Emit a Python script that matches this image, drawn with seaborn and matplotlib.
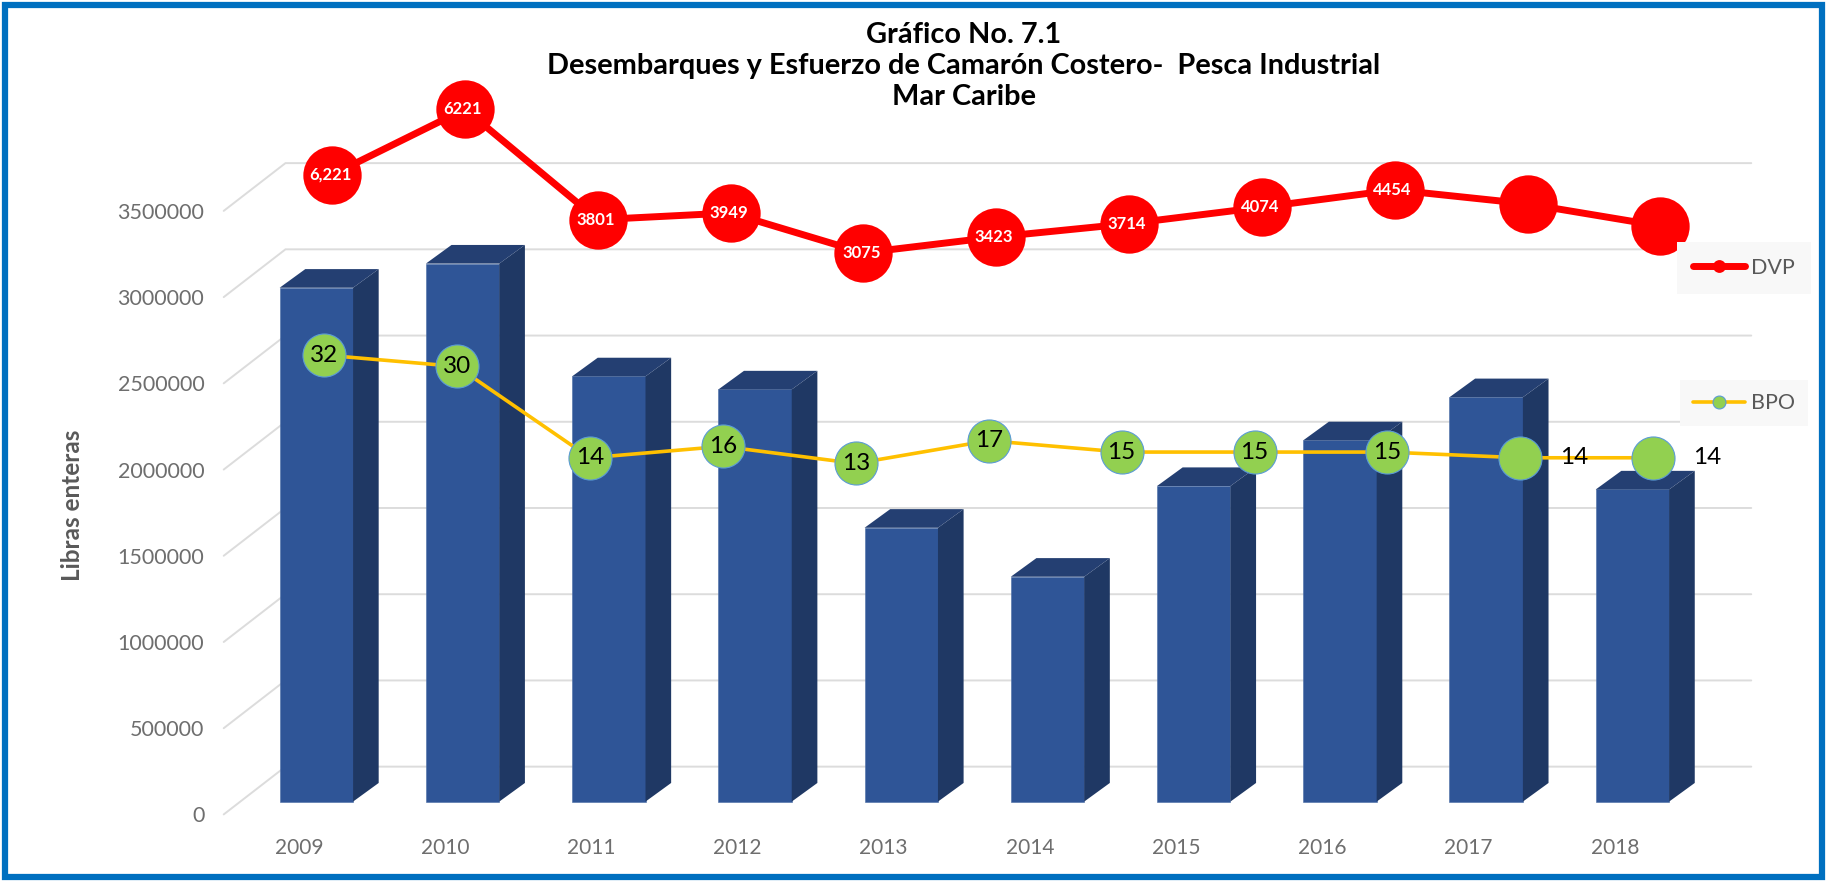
import numpy as np
import pandas as pd
import seaborn as sns
import matplotlib.pyplot as plt
from matplotlib.patches import Polygon, Rectangle

# datos del grafico
years = ['2009', '2010', '2011', '2012', '2013', '2014', '2015', '2016', '2017', '2018']
libras = [2980000, 3120000, 2466000, 2390000, 1588000, 1304000, 1830000, 2095000, 2345000, 1810000]
y_ticks = [0, 500000, 1000000, 1500000, 2000000, 2500000, 3000000, 3500000]

# las lineas tienen 11 puntos, uno mas que las barras
dvp = [4784, 6221, 3801, 3949, 3075, 3423, 3714, 4074, 4454, 4147, 3662]
dvp_labels = ['6,221', '6221', '3801', '3949', '3075', '3423', '3714', '4074', '4454', '', '']
bpo = [32, 30, 14, 16, 13, 17, 15, 15, 15, 14, 14]
bpo_labels = ['32', '30', '14', '16', '13', '17', '15', '15', '15', '14', '14']

title = 'Gráfico No. 7.1\nDesembarques y Esfuerzo de Camarón Costero-  Pesca Industrial\nMar Caribe'

# colores
FRONT = '#2f5597'
SIDE = '#1f3864'
TOP = '#243f72'
GRID = '#dcdcdc'
GREY = '#6e6e6e'

W, H = 1568, 757  # medidas de la imagen reducida, para ubicar los ejes
LEFT, RIGHT, BOTTOM, TOP_PX = 192, 1503, 699, 20
pos = [LEFT / W, (H - BOTTOM) / H, (RIGHT - LEFT) / W, (BOTTOM - TOP_PX) / H]

sns.set_theme(style='white')
plt.rcParams['font.family'] = ['Lato', 'DejaVu Sans']

fig = plt.figure(figsize=(18.27, 8.82), dpi=100)
ax = fig.add_axes(pos)

# escala de las barras
bar_step = 125.5
bar_x0 = 271.5
per_px = 500000 / 74
base_py = 688

df = pd.DataFrame({'year': years, 'libras': libras})
sns.barplot(data=df, x='year', y='libras', color=FRONT, saturation=1, width=0.502,
            edgecolor='#4a6ca6', linewidth=0.4, zorder=3, ax=ax)

ax.set_xlim((LEFT - bar_x0) / bar_step, (RIGHT - bar_x0) / bar_step)
ax.set_ylim((base_py - BOTTOM) * per_px, (base_py - TOP_PX) * per_px)

# efecto 3D de cada barra
dx = 22 / bar_step
dy = 16 * per_px
for bar in list(ax.patches):
    x0 = bar.get_x()
    x1 = x0 + bar.get_width()
    h = bar.get_height()
    ax.add_patch(Polygon([(x1, 0), (x1 + dx, dy), (x1 + dx, h + dy), (x1, h)], color=SIDE, lw=0, zorder=3))
    ax.add_patch(Polygon([(x0, h), (x1, h), (x1 + dx, h + dy), (x0 + dx, h + dy)], color=TOP, lw=0, zorder=3))

# lineas de la cuadricula: plano de atras + diagonal hacia el frente
front_dy = (base_py - BOTTOM) * per_px
back_dy = (base_py - 658) * per_px
back_x = (245 - bar_x0) / bar_step
front_x = (LEFT - bar_x0) / bar_step
right_x = (RIGHT - bar_x0) / bar_step
for t in y_ticks:
    ax.plot([front_x, back_x, right_x], [t + front_dy, t + back_dy, t + back_dy],
            color=GRID, lw=1.4, zorder=1, solid_joinstyle='miter', clip_on=False)

ax.set_xticks(np.arange(len(years)) - 0.12, years)
ax.set_yticks([t + front_dy for t in y_ticks], [str(t) for t in y_ticks])
ax.tick_params(axis='x', length=0, pad=17, labelsize=15, labelcolor=GREY)
ax.tick_params(axis='y', length=0, pad=14, labelsize=15.5, labelcolor=GREY)
ax.set_xlabel('')
ax.set_ylabel('')
sns.despine(ax=ax, left=True, bottom=True)
ax.patch.set_alpha(0)
fig.text(62 / W, 1 - 434 / H, 'Libras enteras', rotation=90, ha='center', va='center',
         fontsize=17.5, fontweight='bold', color='#595959')

idx = np.arange(len(dvp))


def overlay(px0, px_step, v_ref, py_ref, px_per_v):
    # eje secundario invisible con su propia escala
    a = fig.add_axes(pos, frameon=False)
    a.set_xlim((LEFT - px0) / px_step, (RIGHT - px0) / px_step)
    a.set_ylim(v_ref - (BOTTOM - py_ref) / px_per_v, v_ref + (py_ref - TOP_PX) / px_per_v)
    return a


# DVP
ax_dvp = overlay(285, 114, 3075, 217, 0.0392)
sns.lineplot(x=idx, y=dvp, ax=ax_dvp, color='#ff0000', linewidth=5, marker='o', markersize=42,
             markeredgewidth=0, label='DVP')
ax_dvp.set_xlim((LEFT - 285) / 114, (RIGHT - 285) / 114)
ax_dvp.set_ylim(3075 - (BOTTOM - 217) / 0.0392, 3075 + (217 - TOP_PX) / 0.0392)
ax_dvp.set_axis_off()
for i, lab in enumerate(dvp_labels):
    ax_dvp.annotate(lab, (i, dvp[i]), xytext=(-1.5, 0), textcoords='offset points', ha='center',
                    va='center', color='white', fontsize=12, fontweight='bold')

# BPO
ax_bpo = overlay(278, 114.1, 15, 388, 4.9)
sns.lineplot(x=idx, y=bpo, ax=ax_bpo, color='#ffc000', linewidth=2.6, marker='o', markersize=31,
             markerfacecolor='#92d050', markeredgecolor='#5b9bd5', markeredgewidth=0.8, label='BPO')
ax_bpo.set_xlim((LEFT - 278) / 114.1, (RIGHT - 278) / 114.1)
ax_bpo.set_ylim(15 - (BOTTOM - 388) / 4.9, 15 + (388 - TOP_PX) / 4.9)
ax_bpo.set_axis_off()
for i, lab in enumerate(bpo_labels):
    off = 39 if i >= 9 else 0
    ax_bpo.annotate(lab, (i, bpo[i]), xytext=(off, 0), textcoords='offset points', ha='center',
                    va='center', color='black', fontsize=17.5)

# leyendas separadas
for a, py, sc, pad in [(ax_dvp, 230, 0.22, 0.75), (ax_bpo, 346, 0.3, 0.6)]:
    a.legend(loc='center', bbox_to_anchor=(1497 / W, 1 - py / H), bbox_transform=fig.transFigure,
             frameon=True, fancybox=False, facecolor='#f8f8f8', edgecolor='none', framealpha=1,
             markerscale=sc, fontsize=15.5, labelcolor='#595959', handlelength=2.4, handletextpad=0.3,
             borderpad=pad, borderaxespad=0)

fig.suptitle(title, x=827 / W, y=1 - 19 / H, va='top', ha='center', fontsize=20.8, fontweight='bold',
             color='black', linespacing=1.24)

# marco azul
fig.add_artist(Rectangle((5 / 1827, 5 / 882), 1 - 10 / 1827, 1 - 10 / 882, transform=fig.transFigure,
                         fill=False, edgecolor='#0070c0', lw=4.5))

fig.savefig('out.png', dpi=100)
